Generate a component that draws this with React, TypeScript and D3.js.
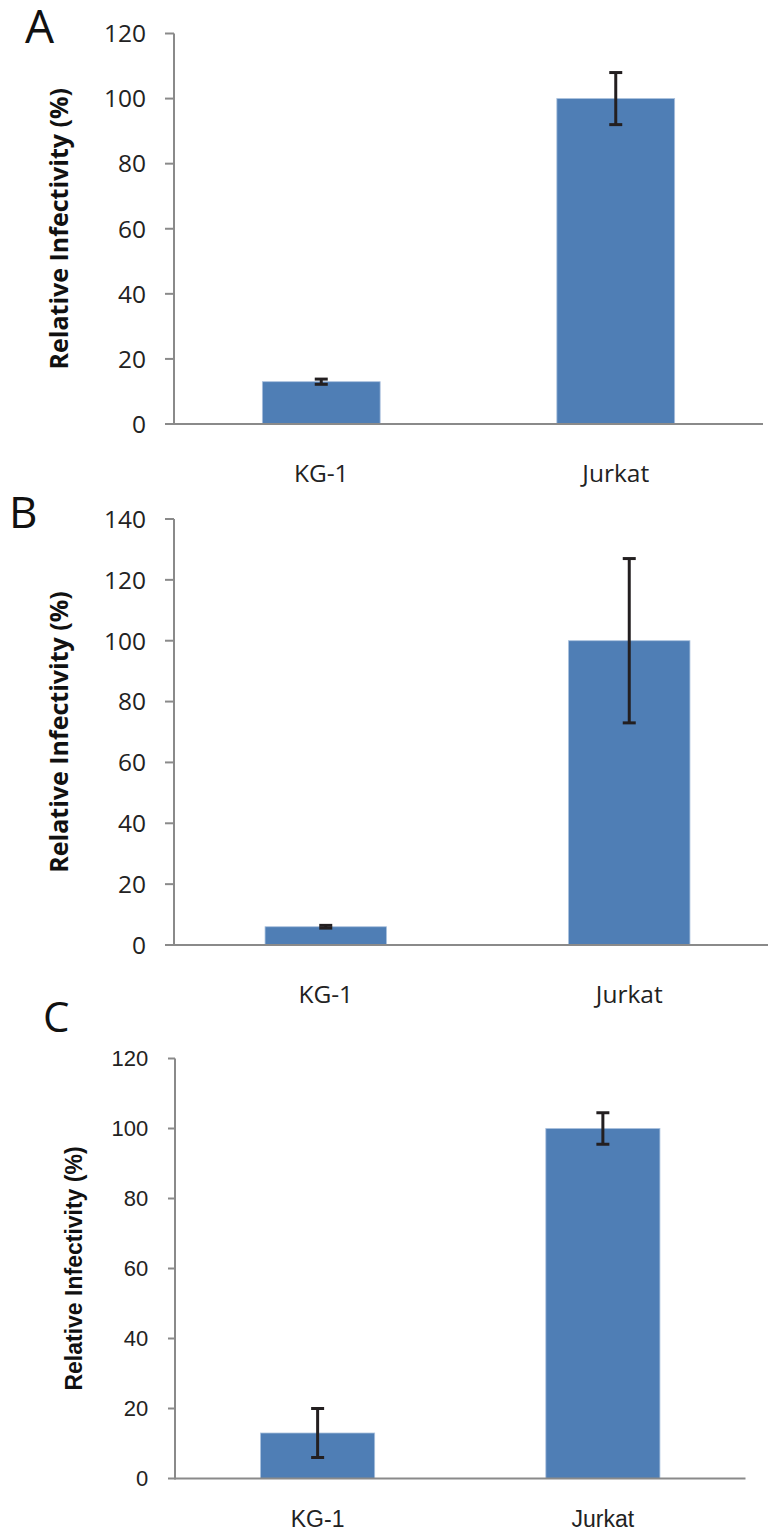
import React from "react";
import * as d3 from "d3";

const categories = ["KG-1", "Jurkat"];
const panelLetters = ["A", "B", "C"];
const valuesA = [13, 100];
const errorsA = [0.8, 8];
const valuesB = [6, 100];
const errorsB = [0.45, 27];
const valuesC = [13, 100];
const errorsC = [7, 4.5];
const yMaxes = [120, 140, 120];
const tickStep = 20;
const yTitle = "Relative Infectivity (%)";

type Layout = {
  x0: number; x1: number; yTop: number; yBottom: number;
  font: string; tickSize: number; labelSize: number; titleSize: number;
  tickLen: number; tickGap: number; labelDy: number; titleX: number;
  letterX: number; letterY: number; letterSize: number;
};

const layouts: Layout[] = [
  { x0: 174, x1: 763, yTop: 33.5, yBottom: 424, font: "'Open Sans', sans-serif", tickSize: 24.5, labelSize: 24.5, titleSize: 25, tickLen: 9, tickGap: 28, labelDy: 57.7, titleX: 68, letterX: 25, letterY: 43.3, letterSize: 46 },
  { x0: 174, x1: 781, yTop: 519, yBottom: 945, font: "'Open Sans', sans-serif", tickSize: 24.5, labelSize: 24.5, titleSize: 25, tickLen: 9, tickGap: 28, labelDy: 57.7, titleX: 68, letterX: 9, letterY: 528.3, letterSize: 44 },
  { x0: 175, x1: 745.5, yTop: 1058.5, yBottom: 1478.5, font: "'Liberation Sans', Arial, sans-serif", tickSize: 22, labelSize: 23, titleSize: 23, tickLen: 7, tickGap: 26.7, labelDy: 48, titleX: 82, letterX: 43, letterY: 1032, letterSize: 42 },
];

const seriesValues = [valuesA, valuesB, valuesC];
const seriesErrors = [errorsA, errorsB, errorsC];

const BAR = "#4F7EB5";
const AXIS = "#8A8A8A";
const ERR = "#231F20";

function Panel({ idx }: { idx: number }) {
  const L = layouts[idx];
  const values = seriesValues[idx];
  const errors = seriesErrors[idx];
  const yMax = yMaxes[idx];
  const x = d3.scaleBand<string>().domain(categories).range([L.x0, L.x1]).paddingInner(0.6).paddingOuter(0.3);
  const y = d3.scaleLinear().domain([0, yMax]).range([L.yBottom, L.yTop]);
  const ticks = d3.range(0, yMax + tickStep / 2, tickStep);
  const capW = 13;
  return (
    <g>
      <text x={L.letterX} y={L.letterY} fontFamily="'Open Sans', sans-serif" fontSize={L.letterSize} fill="#111">{panelLetters[idx]}</text>
      {categories.map((c, i) => (
        <rect key={c} x={x(c)!} y={y(values[i])} width={x.bandwidth()} height={y(0) - y(values[i])} fill={BAR} stroke="#A9C0DD" strokeWidth={0.8} />
      ))}
      <line x1={L.x0} x2={L.x1} y1={y(0)} y2={y(0)} stroke={AXIS} strokeWidth={2} />
      <line x1={L.x0} x2={L.x0} y1={y(yMax)} y2={y(0) + 1} stroke={AXIS} strokeWidth={2} />
      {ticks.map((t) => (
        <g key={t}>
          <line x1={L.x0 - L.tickLen} x2={L.x0} y1={y(t)} y2={y(t)} stroke={AXIS} strokeWidth={2} />
          <text x={L.x0 - L.tickGap} y={y(t)} dy="0.36em" textAnchor="end" fontFamily={L.font} fontSize={L.tickSize} fill="#222">{t}</text>
        </g>
      ))}
      {categories.map((c, i) => {
        const cx = x(c)! + x.bandwidth() / 2;
        const top = y(values[i] + errors[i]);
        const bot = y(values[i] - errors[i]);
        return (
          <g key={c + "err"} stroke={ERR} strokeWidth={3}>
            <line x1={cx} x2={cx} y1={top} y2={bot} />
            <line x1={cx - capW / 2} x2={cx + capW / 2} y1={top} y2={top} />
            <line x1={cx - capW / 2} x2={cx + capW / 2} y1={bot} y2={bot} />
          </g>
        );
      })}
      {categories.map((c) => (
        <text key={c + "lab"} x={x(c)! + x.bandwidth() / 2} y={L.yBottom + L.labelDy} textAnchor="middle" fontFamily={L.font} fontSize={L.labelSize} fill="#222">{c}</text>
      ))}
      <text transform={`translate(${L.titleX},${(L.yTop + L.yBottom) / 2}) rotate(-90)`} textAnchor="middle" fontFamily={L.font} fontWeight="bold" fontSize={L.titleSize} fill="#111">{yTitle}</text>
    </g>
  );
}

export default function App() {
  return (
    <svg width={768} height={1532} style={{ position: "absolute", left: 0, top: 0, background: "#fff" }}>
      <rect x={0} y={0} width={768} height={1532} fill="#fff" />
      {layouts.map((_, i) => <Panel key={i} idx={i} />)}
    </svg>
  );
}
